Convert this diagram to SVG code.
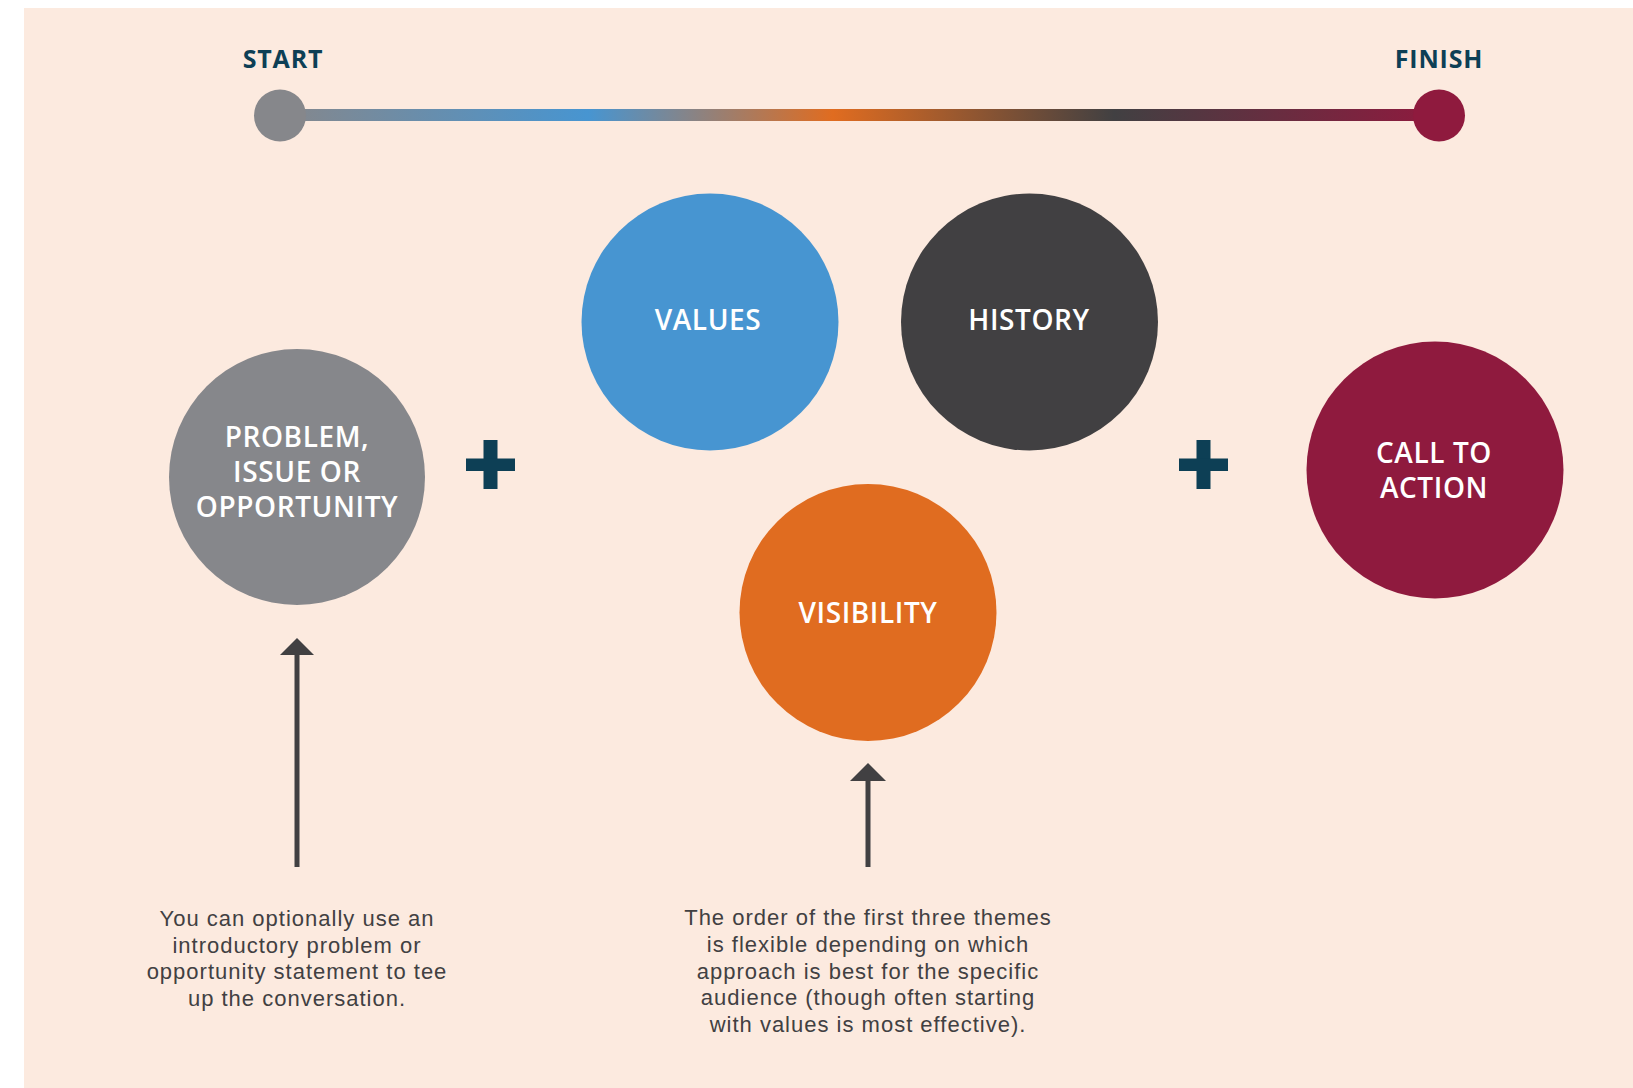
<svg xmlns="http://www.w3.org/2000/svg" width="1633" height="1088" viewBox="0 0 1633 1088">
<style>
.lbl{font-family:"Open Sans","Liberation Sans",sans-serif;font-weight:600;font-size:28px;fill:#ffffff;text-anchor:middle;letter-spacing:0.6px}
.end{font-family:"Open Sans","Liberation Sans",sans-serif;font-weight:700;font-size:25px;fill:#0d3f55;text-anchor:middle;letter-spacing:0.8px}
.note{font-family:"Liberation Sans","Open Sans",sans-serif;font-size:22px;fill:#414042;text-anchor:middle;letter-spacing:1px}
.plus{fill:#0d3f55}
.arr{stroke:#414042;stroke-width:5;fill:none}
.head{fill:#414042}
</style>
<defs>
<linearGradient id="tl" gradientUnits="userSpaceOnUse" x1="280" y1="0" x2="1439" y2="0">
<stop offset="0" stop-color="#86878b"/>
<stop offset="0.266" stop-color="#4795d1"/>
<stop offset="0.477" stop-color="#e06c20"/>
<stop offset="0.72" stop-color="#414042"/>
<stop offset="1" stop-color="#8f1a3e"/>
</linearGradient>
</defs>
<rect x="0" y="0" width="1633" height="1088" fill="#ffffff"/>
<rect x="24" y="8" width="1609" height="1080" fill="#fceadf"/>
<g id="timeline">
<rect x="280" y="109" width="1159" height="12" fill="url(#tl)"/>
<circle cx="280" cy="115.5" r="26" fill="#86878b"/>
<circle cx="1439" cy="115.5" r="26" fill="#8f1a3e"/>
<text class="end" x="283" y="68">START</text>
<text class="end" x="1439" y="68">FINISH</text>
</g>
<g id="problem">
<circle cx="297" cy="477" r="128" fill="#86878b"/>
<text class="lbl"><tspan x="297" y="447">PROBLEM,</tspan><tspan x="297" y="482">ISSUE OR</tspan><tspan x="297" y="517">OPPORTUNITY</tspan></text>
</g>
<g id="plus1" class="plus">
<rect x="483.5" y="440" width="14" height="49"/>
<rect x="466" y="458.5" width="49" height="12.5"/>
</g>
<g id="values">
<circle cx="710" cy="322" r="128.5" fill="#4795d1"/>
<text class="lbl" x="708" y="330">VALUES</text>
</g>
<g id="history">
<circle cx="1029.5" cy="322" r="128.5" fill="#414042"/>
<text class="lbl" x="1029" y="330">HISTORY</text>
</g>
<g id="visibility">
<circle cx="868" cy="612.5" r="128.5" fill="#e06c20"/>
<text class="lbl" x="868" y="623">VISIBILITY</text>
</g>
<g id="plus2" class="plus">
<rect x="1196.5" y="440" width="14" height="49"/>
<rect x="1179" y="458.5" width="49" height="12.5"/>
</g>
<g id="call-to-action">
<circle cx="1435" cy="470" r="128.5" fill="#8f1a3e"/>
<text class="lbl"><tspan x="1434" y="463">CALL TO</tspan><tspan x="1434" y="498">ACTION</tspan></text>
</g>
<g id="connectors">
<line class="arr" x1="297" y1="867" x2="297" y2="652"/>
<polygon class="head" points="297,638 314,655 280,655"/>
<line class="arr" x1="868" y1="867" x2="868" y2="778"/>
<polygon class="head" points="868,763 886,781 850,781"/>
</g>
<g id="note1">
<text class="note"><tspan x="297" y="926">You can optionally use an</tspan><tspan x="297" y="953">introductory problem or</tspan><tspan x="297" y="979">opportunity statement to tee</tspan><tspan x="297" y="1006">up the conversation.</tspan></text>
</g>
<g id="note2">
<text class="note"><tspan x="868" y="925">The order of the first three themes</tspan><tspan x="868" y="952">is flexible depending on which</tspan><tspan x="868" y="979">approach is best for the specific</tspan><tspan x="868" y="1005">audience (though often starting</tspan><tspan x="868" y="1032">with values is most effective).</tspan></text>
</g>
</svg>
